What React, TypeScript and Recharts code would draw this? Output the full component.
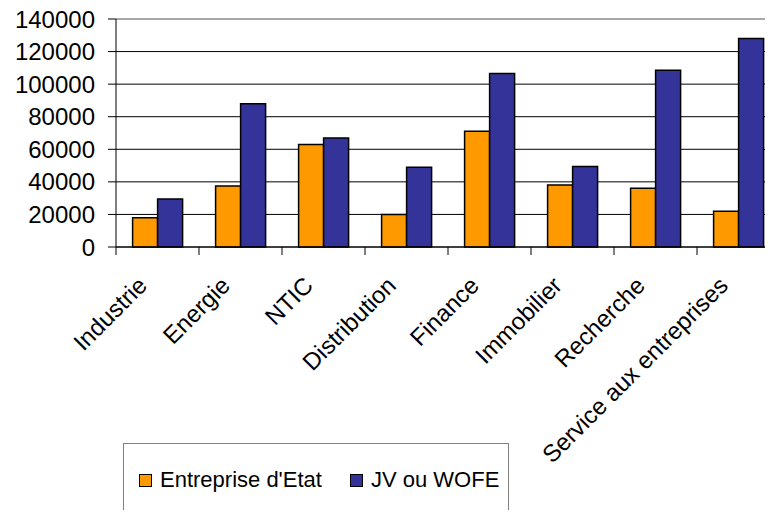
import { Bar, BarChart, CartesianGrid, ReferenceLine, XAxis, YAxis } from "recharts";

const categories = [
  "Industrie",
  "Energie",
  "NTIC",
  "Distribution",
  "Finance",
  "Immobilier",
  "Recherche",
  "Service aux entreprises",
];
const entrepriseEtat = [18000, 37500, 63000, 20000, 71000, 38000, 36000, 22000];
const jvWofe = [29500, 88000, 67000, 49000, 106500, 49500, 108500, 128000];
const yTicks = [0, 20000, 40000, 60000, 80000, 100000, 120000, 140000];

const seriesNames = ["Entreprise d'Etat", "JV ou WOFE"];
const seriesColors = ["#FF9900", "#333399"];

const chartData = categories.map((name, i) => ({
  name,
  etat: entrepriseEtat[i],
  jv: jvWofe[i],
}));

const FONT = "Arial, 'Liberation Sans', sans-serif";
const CHART_W = 798;
const CHART_H = 518;
const Y_AXIS_W = 116;
const MARGIN = { top: 19, right: 18, left: 0, bottom: 0 };
const bandWidth = (CHART_W - Y_AXIS_W - MARGIN.left - MARGIN.right) / categories.length;

function CategoryTick(props: any) {
  const { x, y, payload, index } = props;
  const half = bandWidth / 2;
  return (
    <g>
      {index === 0 && <line x1={x - half} y1={y} x2={x - half} y2={y + 8} stroke="#000" />}
      <line x1={x + half} y1={y} x2={x + half} y2={y + 8} stroke="#000" />
      <text
        x={x - 9}
        y={y + 40}
        textAnchor="end"
        transform={`rotate(-45, ${x - 9}, ${y + 40})`}
        fontSize={24}
        fontFamily={FONT}
        fill="#000"
      >
        {payload.value}
      </text>
    </g>
  );
}

export default function App() {
  // pull the chart over the body margin so nothing gets clipped at the top edge
  return (
    <div style={{ position: "relative", margin: -8, width: 773, height: 518, overflow: "hidden", fontFamily: FONT }}>
      <BarChart
        width={CHART_W}
        height={CHART_H}
        data={chartData}
        margin={MARGIN}
        barCategoryGap="20%"
        barGap={0}
      >
        <CartesianGrid vertical={false} stroke="#000" />
        <XAxis
          dataKey="name"
          interval={0}
          height={271}
          tickLine={false}
          tickSize={0}
          tickMargin={0}
          axisLine={{ stroke: "#000" }}
          tick={<CategoryTick />}
        />
        <YAxis
          width={Y_AXIS_W}
          domain={[0, 140000]}
          ticks={yTicks}
          interval={0}
          tickSize={8}
          tickMargin={13}
          tickLine={{ stroke: "#000" }}
          axisLine={{ stroke: "#000" }}
          tick={{ fontSize: 24, fill: "#000", fontFamily: FONT }}
        />
        <ReferenceLine y={140000} stroke="#d0d0d0" />
        <Bar
          dataKey="etat"
          name={seriesNames[0]}
          fill={seriesColors[0]}
          stroke="#000"
          strokeWidth={1.5}
          isAnimationActive={false}
        />
        <Bar
          dataKey="jv"
          name={seriesNames[1]}
          fill={seriesColors[1]}
          stroke="#000"
          strokeWidth={1.5}
          isAnimationActive={false}
        />
      </BarChart>
      <div
        style={{
          position: "absolute",
          left: 123,
          top: 443,
          width: 386,
          height: 74,
          boxSizing: "border-box",
          border: "1px solid #808080",
          display: "flex",
          alignItems: "center",
          paddingLeft: 15,
          fontSize: 22,
          color: "#000",
        }}
      >
        {seriesNames.map((name, i) => (
          <div key={name} style={{ display: "flex", alignItems: "center", marginLeft: i === 0 ? 0 : 28 }}>
            <span
              style={{
                display: "inline-block",
                width: 13,
                height: 13,
                boxSizing: "border-box",
                border: "1px solid #000",
                background: seriesColors[i],
                marginRight: 8,
              }}
            />
            <span>{name}</span>
          </div>
        ))}
      </div>
    </div>
  );
}
